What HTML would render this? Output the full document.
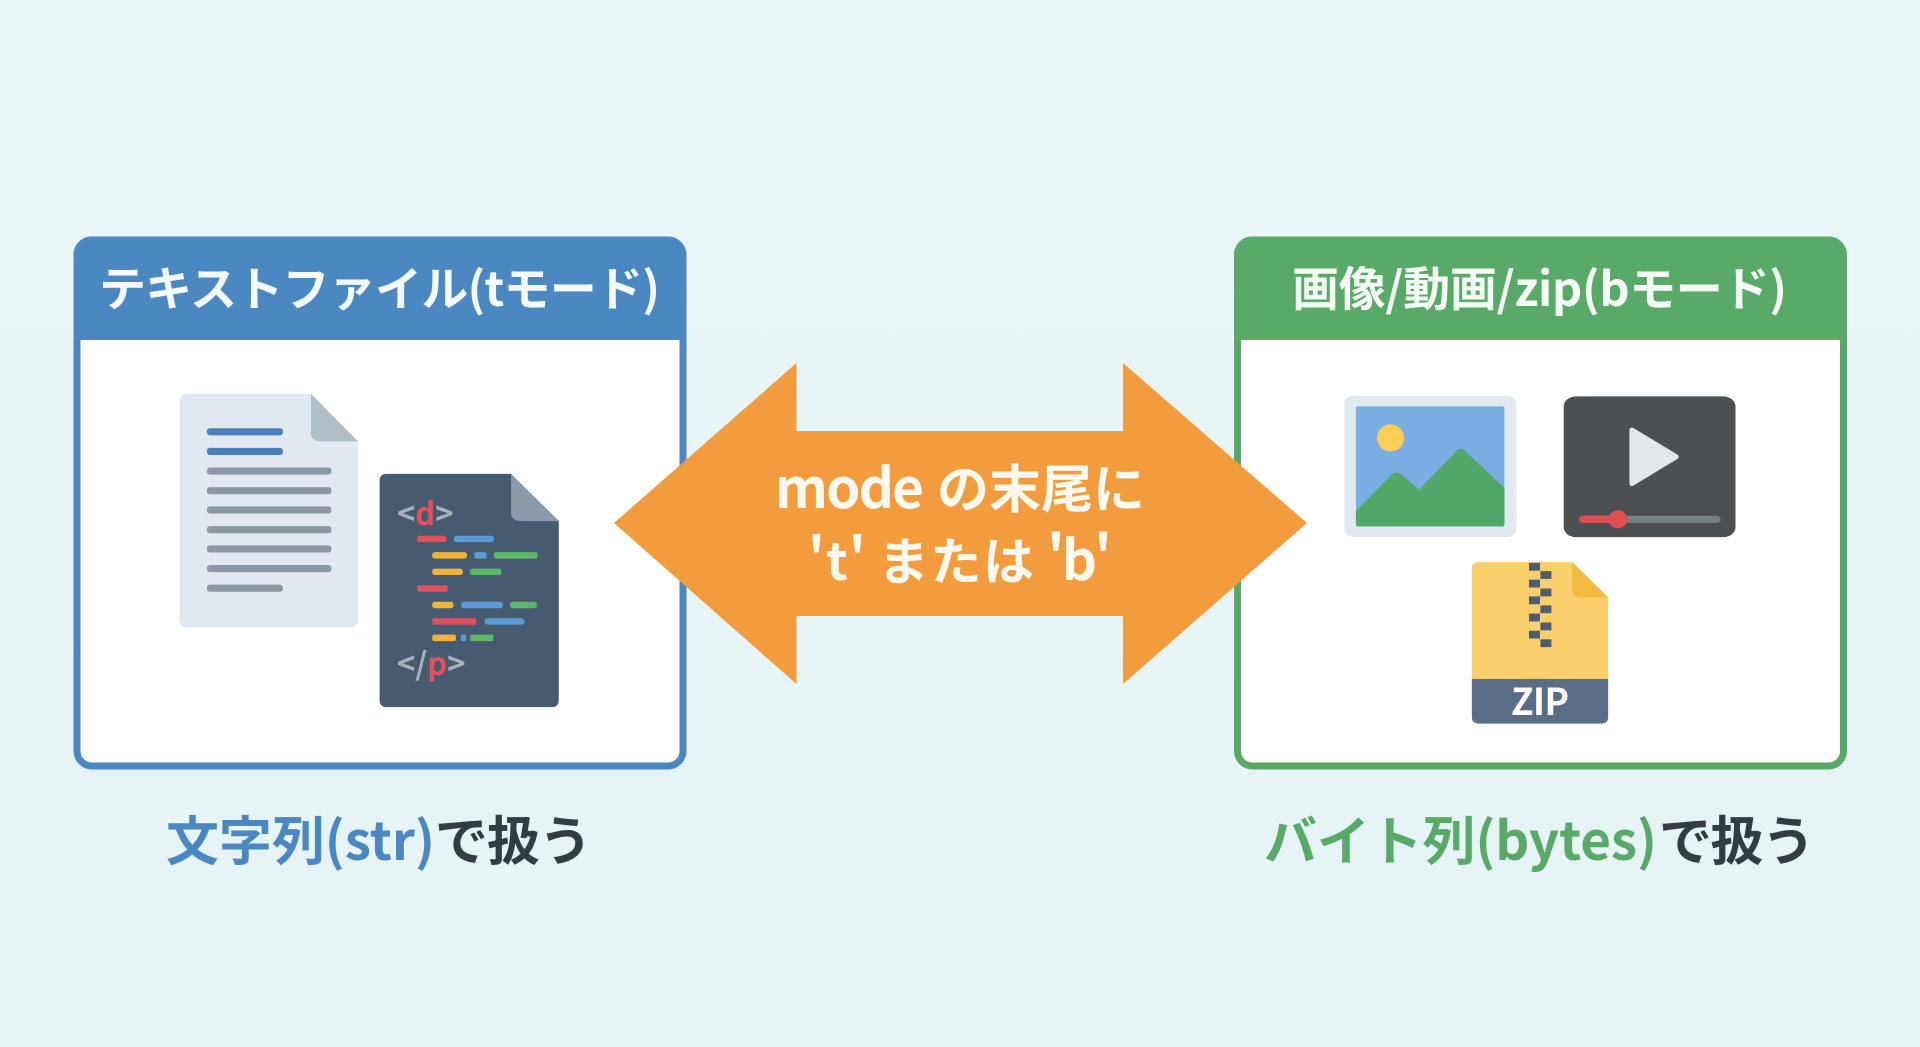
<!DOCTYPE html>
<html lang="ja"><head><meta charset="utf-8"><title>テキストファイルとバイナリファイル</title>
<style>
html,body{margin:0;padding:0;width:1920px;height:1047px;overflow:hidden;background:#e8f5f8}
svg{display:block;position:absolute;left:0;top:0}
text{font-family:"Noto Sans CJK JP","Liberation Sans",sans-serif}
</style></head><body>
<svg width="1920" height="1047" viewBox="0 0 1920 1047" xmlns="http://www.w3.org/2000/svg">
<defs>
<linearGradient id="bg" x1="0" y1="0" x2="0" y2="1"><stop offset="0" stop-color="#e9f6f8"/><stop offset="1" stop-color="#e6f4f6"/></linearGradient>
</defs>
<rect width="1920" height="1047" fill="url(#bg)"/>

<!-- left panel -->
<rect x="77" y="240" width="606" height="526" rx="15" fill="#fff" stroke="#4a86c0" stroke-width="7"/>
<path d="M73.500 340V255a18 18 0 0 1 18-18.500H668a18 18 0 0 1 18 18.500V340Z" fill="#4b88c2"/>
<text x="99" y="306" font-size="47" font-weight="700" fill="#f4fafc" textLength="561" lengthAdjust="spacing">テキストファイル(tモード)</text>

<!-- right panel -->
<rect x="1237.500" y="240" width="606" height="526" rx="15" fill="#fff" stroke="#58a866" stroke-width="7"/>
<path d="M1234 340V255a18 18 0 0 1 18-18.500H1828.500a18 18 0 0 1 18 18.500V340Z" fill="#59a968"/>
<text x="1292" y="306" font-size="47" font-weight="700" fill="#f4fbf5" textLength="495" lengthAdjust="spacing">画像/動画/zip(bモード)</text>

<!-- left icons -->
<g transform="translate(60,220) scale(0.40816,0.35714)">
<path d="M615 487H310Q293 487 293 507V1120Q293 1140 310 1140H712Q730 1140 730 1120V620Z" fill="#e2e8f0"/>
<path d="M615 487L730 620H640Q615 620 615 595Z" fill="#b0bec5"/>
<g fill="#4a80bb"><rect x="360" y="583" width="186" height="20" rx="7" ry="8"/><rect x="360" y="638" width="186" height="20" rx="7" ry="8"/></g>
<g fill="#8d979f"><rect x="360" y="693" width="305" height="20" rx="7" ry="8"/><rect x="360" y="748" width="305" height="20" rx="7" ry="8"/><rect x="360" y="802" width="305" height="20" rx="7" ry="8"/><rect x="360" y="857" width="305" height="20" rx="7" ry="8"/><rect x="360" y="911" width="305" height="20" rx="7" ry="8"/><rect x="360" y="966" width="305" height="20" rx="7" ry="8"/><rect x="360" y="1021" width="186" height="20" rx="7" ry="8"/></g>

<path d="M1105 711H800Q783 711 783 731V1344Q783 1364 800 1364H1204Q1222 1364 1222 1344V843Z" fill="#475b70"/>
<path d="M1105 711L1222 843H1130Q1105 843 1105 818Z" fill="#8a9aa8"/>
<g fill="#e0505f"><rect x="875" y="884" width="71" height="18" rx="5"/><rect x="875" y="1023" width="75" height="18" rx="5"/><rect x="912" y="1115" width="108" height="18" rx="5"/></g>
<g fill="#5b9bd5"><rect x="965" y="884" width="98" height="18" rx="7"/><rect x="1015" y="930" width="30" height="18" rx="5"/><rect x="983" y="1069" width="102" height="18" rx="7"/><rect x="1040" y="1115" width="98" height="18" rx="7"/><rect x="982" y="1161" width="13" height="18" rx="4"/></g>
<g fill="#f2b33d"><rect x="912" y="930" width="85" height="18" rx="7"/><rect x="912" y="976" width="75" height="18" rx="7"/><rect x="912" y="1069" width="52" height="18" rx="7"/><rect x="912" y="1161" width="58" height="18" rx="5"/></g>
<g fill="#5cb868"><rect x="1063" y="930" width="107" height="18" rx="5"/><rect x="1005" y="976" width="76" height="18" rx="5"/><rect x="1103" y="1069" width="65" height="18" rx="5"/><rect x="1005" y="1161" width="57" height="18" rx="5"/></g>
</g>
<text x="397" y="525" font-size="31" font-weight="700" fill="#a7b2bc">&lt;<tspan fill="#e0505f">d</tspan>&gt;</text>
<text x="397" y="675" font-size="31" font-weight="700" fill="#a7b2bc">&lt;/<tspan fill="#e0505f">p</tspan>&gt;</text>

<!-- right icons -->
<g transform="translate(1220,220) scale(0.40816,0.35714)">
<rect x="305" y="492" width="421" height="396" rx="25" ry="22" fill="#e2e8f0"/>
<rect x="333" y="522" width="364" height="336" rx="5" fill="#7aaee3"/>
<ellipse cx="418" cy="610" rx="33" ry="38" fill="#fbcf55"/>
<path d="M333 815L420 713Q432 700 445 713L488 755L578 648Q590 634 602 648L697 750V852Q697 858 691 858H339Q333 858 333 852Z" fill="#52a868"/>

<rect x="842" y="494" width="421" height="394" rx="30" ry="28" fill="#4c5053"/>
<path d="M1003 590Q1003 575 1018 586L1118 655Q1130 663 1118 671L1018 740Q1003 752 1003 735Z" fill="#e1e7ea"/>
<rect x="880" y="828" width="346" height="20" rx="9" fill="#7b8083"/>
<rect x="880" y="828" width="95" height="20" rx="9" fill="#e04f4f"/>
<ellipse cx="975" cy="838" rx="23" ry="25" fill="#e04f4f"/>

<path d="M863 958H635Q617 958 617 976V1285H951V1057Z" fill="#fbcf6c"/>
<path d="M863 958L951 1057H885Q863 1057 863 1035Z" fill="#f2bb40"/>
<path d="M617 1285H951V1392Q951 1410 933 1410H635Q617 1410 617 1392Z" fill="#5a6d87"/>
<g fill="#4f5d6e">
<rect x="757" y="960" width="27" height="22"/><rect x="757" y="1007" width="27" height="22"/><rect x="757" y="1054" width="27" height="22"/><rect x="757" y="1102" width="27" height="22"/><rect x="757" y="1150" width="27" height="22"/>
<rect x="785" y="983" width="27" height="22"/><rect x="785" y="1032" width="27" height="22"/><rect x="785" y="1079" width="27" height="22"/><rect x="785" y="1127" width="27" height="22"/><rect x="785" y="1174" width="27" height="22"/>
</g>
</g>
<text x="1540" y="715" font-size="37" font-weight="700" fill="#fff" text-anchor="middle" textLength="58" lengthAdjust="spacing">ZIP</text>

<!-- arrow -->
<path d="M614 523L796.500 363V431H1123V363L1307 523L1123 684V616H796.500V684Z" fill="#f39c3d"/>
<text x="775" y="508" font-size="55" font-weight="700" fill="#fff8ee" textLength="149" lengthAdjust="spacing">mode</text>
<text x="937" y="508" font-size="52" font-weight="700" fill="#fff8ee" textLength="208" lengthAdjust="spacing">の末尾に</text>
<text x="808" y="580" font-size="52" letter-spacing="1" font-weight="700" fill="#fff8ee">'t'</text>
<text x="878" y="580" font-size="51" font-weight="700" fill="#fff8ee" textLength="156" lengthAdjust="spacing">または</text>
<text x="1047" y="580" font-size="55" font-weight="700" fill="#fff8ee" textLength="65" lengthAdjust="spacing">'b'</text>

<!-- bottom captions -->
<text x="166" y="860" font-size="53" font-weight="700" fill="#4b88c2" textLength="269" lengthAdjust="spacing">文字列(str)</text>
<text x="435" y="860" font-size="53" font-weight="700" fill="#333c42" textLength="157" lengthAdjust="spacing">で扱う</text>
<text x="1264" y="860" font-size="53" font-weight="700" fill="#59a968" textLength="393" lengthAdjust="spacing">バイト列(bytes)</text>
<text x="1659" y="860" font-size="53" font-weight="700" fill="#333c42" textLength="156" lengthAdjust="spacing">で扱う</text>
</svg>
</body></html>
